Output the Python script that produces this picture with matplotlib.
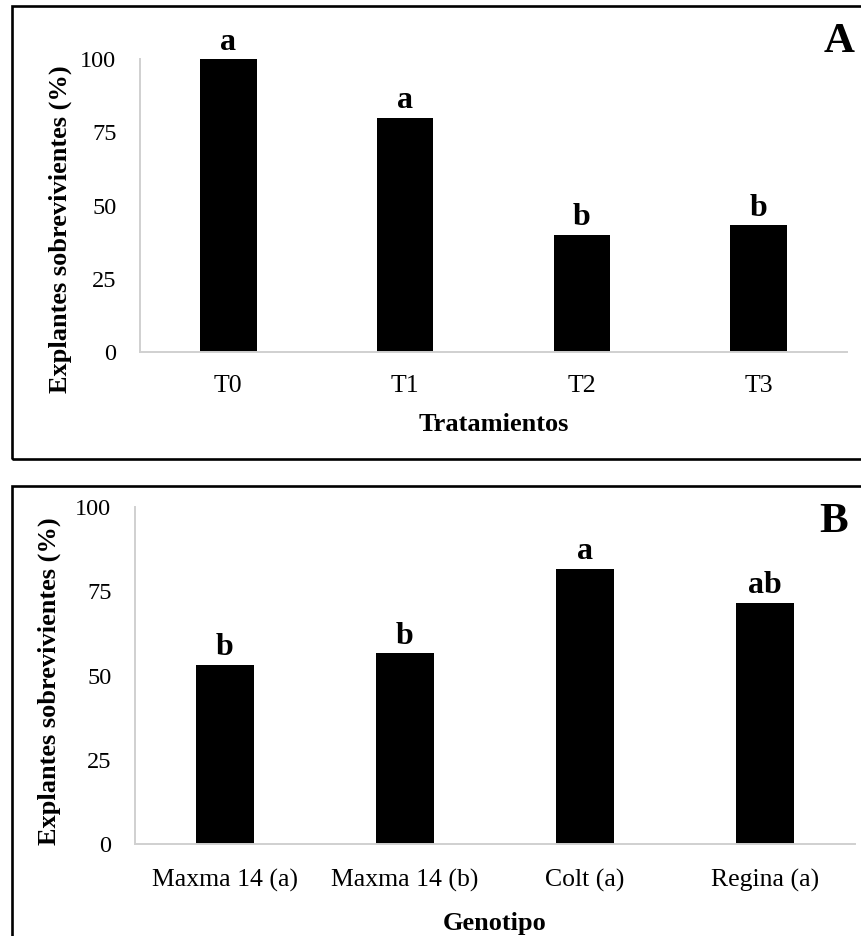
import matplotlib.pyplot as plt
from matplotlib.patches import Rectangle

# data
tratamientos = ['T0', 'T1', 'T2', 'T3']
surv_trat = [100, 80, 40, 43.2]
letras_trat = ['a', 'a', 'b', 'b']

genotipos = ['Maxma 14 (a)', 'Maxma 14 (b)', 'Colt (a)', 'Regina (a)']
surv_gen = [53.3, 56.6, 81.7, 71.7]
letras_gen = ['b', 'b', 'a', 'ab']

plt.rcParams['font.family'] = ['Liberation Serif', 'DejaVu Serif']

W, H = 861, 936
fig = plt.figure(figsize=(W / 100, H / 100), dpi=100)


def fx(px):
    return px / W


def fy(py):
    return 1 - py / H


# panel frames (right side runs off the image)
for top, bot in [(6, 459), (486, 945)]:
    fig.patches.append(Rectangle((fx(12), fy(bot)), fx(870) - fx(12), fy(top) - fy(bot),
                                 transform=fig.transFigure, fill=False,
                                 edgecolor='black', linewidth=1.9, zorder=0))


def panel(rect, cats, vals, letras, xlabel, tag, ylab_y, tag_xy, xpad, lpad):
    ax = fig.add_axes(rect)
    x = range(len(cats))
    ax.bar(x, vals, width=0.32, color='black', zorder=2)
    for xi, v, l in zip(x, vals, letras):
        ax.annotate(l, (xi, v), xytext=(0, 2), textcoords='offset points',
                    ha='center', va='bottom', fontsize=23, fontweight='bold')
    ax.set_xlim(-0.5, len(cats) - 0.5)
    ax.set_ylim(0, 100)
    ax.set_yticks([0, 25, 50, 75, 100])
    ax.set_xticks(list(x))
    ax.set_xticklabels(cats)
    ax.tick_params(axis='y', length=0, labelsize=17.5, pad=17)
    ax.tick_params(axis='x', length=0, labelsize=18.5, pad=xpad)
    for s in ['top', 'right']:
        ax.spines[s].set_visible(False)
    for s in ['left', 'bottom']:
        ax.spines[s].set_color('#d0d0d0')
        ax.spines[s].set_linewidth(1.4)
    ax.set_xlabel(xlabel, fontsize=19, fontweight='bold', labelpad=lpad)
    ax.set_ylabel('Explantes sobrevivientes (%)', fontsize=19, fontweight='bold', va='center')
    ax.yaxis.set_label_coords(ylab_y[0], ylab_y[1])
    fig.text(fx(tag_xy[0]), fy(tag_xy[1]), tag, fontsize=31, fontweight='bold',
             ha='center', va='center')
    return ax


panel([fx(140), fy(351.7), fx(847) - fx(140), fy(59.3) - fy(351.7)],
      tratamientos, surv_trat, letras_trat, 'Tratamientos', 'A',
      ((60 - 140) / 707, (351.7 - 229) / 292.4), (839, 42), 17, 11)

panel([fx(135), fy(844), fx(855) - fx(135), fy(507.3) - fy(844)],
      genotipos, surv_gen, letras_gen, 'Genotipo', 'B',
      ((49 - 135) / 720, (844 - 681) / 336.7), (834, 522), 18, 14)

fig.savefig('out.png', dpi=100)
